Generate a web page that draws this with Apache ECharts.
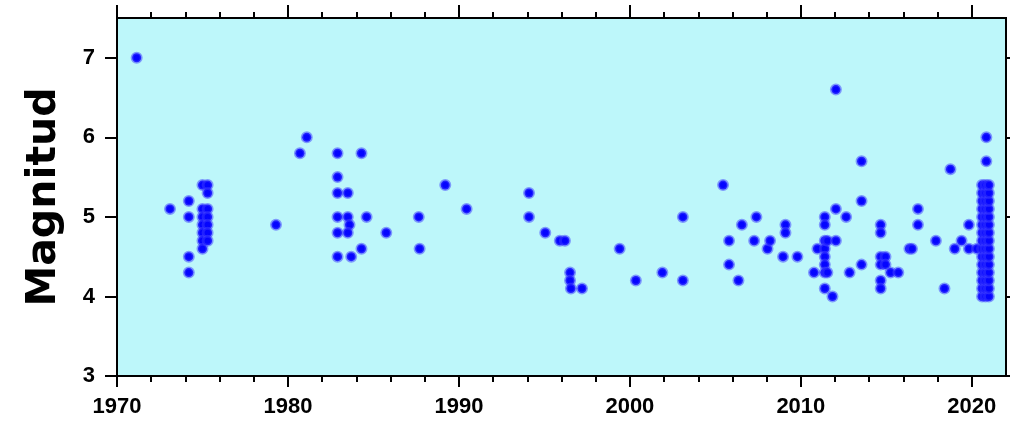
<!DOCTYPE html>
<html>
<head>
<meta charset="utf-8">
<script src="https://cdn.jsdelivr.net/npm/echarts@6/dist/echarts.min.js"></script>
<style>html,body{margin:0;padding:0;background:#fff;}#c{width:1010px;height:423px;}</style>
</head>
<body>
<div id="c"></div>
<script>
const xTicks = [1970, 1980, 1990, 2000, 2010, 2020];
const yTicks = [3, 4, 5, 6, 7];
const yTitle = 'Magnitud';

const years = [
  1971.15,
  1973.1,
  1974.2, 1974.2, 1974.2, 1974.2,
  1975.0, 1975.0, 1975.0, 1975.0, 1975.0, 1975.0, 1975.0,
  1975.3, 1975.3, 1975.3, 1975.3, 1975.3, 1975.3, 1975.3,
  1979.3,
  1980.7, 1981.1,
  1982.9, 1982.9, 1982.9, 1982.9, 1982.9, 1982.9,
  1983.5, 1983.5, 1983.6, 1983.5, 1983.7,
  1984.3, 1984.3, 1984.6, 1985.75,
  1987.65, 1987.7,
  1989.2, 1990.45,
  1994.1, 1994.1,
  1995.05, 1995.9, 1996.2,
  1996.5, 1996.5, 1996.55, 1997.2,
  1999.4, 2000.35, 2001.9,
  2003.1, 2003.1,
  2005.45, 2005.8, 2005.8,
  2006.35, 2006.55,
  2007.27, 2007.4,
  2008.05, 2008.2,
  2008.96, 2009.1, 2009.1, 2009.8,
  2010.77, 2010.97,
  2011.4, 2011.4, 2011.4, 2011.4, 2011.4, 2011.4, 2011.4, 2011.4,
  2011.55, 2011.55,
  2011.85,
  2012.05, 2012.05, 2012.05,
  2012.65, 2012.85,
  2013.55, 2013.55, 2013.55,
  2014.67, 2014.67, 2014.67, 2014.67, 2014.67, 2014.67,
  2014.95, 2014.95,
  2015.25, 2015.7,
  2016.35, 2016.5,
  2016.85, 2016.85,
  2017.9, 2018.4, 2018.75,
  2019.0, 2019.4, 2019.83, 2019.83,
  2020.3,
  2020.85, 2020.85,
  2020.6, 2020.6, 2020.6, 2020.6, 2020.6, 2020.6, 2020.6, 2020.6, 2020.6, 2020.6, 2020.6, 2020.6, 2020.6, 2020.6, 2020.6,
  2020.8, 2020.8, 2020.8, 2020.8, 2020.8, 2020.8, 2020.8, 2020.8, 2020.8, 2020.8, 2020.8, 2020.8, 2020.8, 2020.8, 2020.8,
  2021.0, 2021.0, 2021.0, 2021.0, 2021.0, 2021.0, 2021.0, 2021.0, 2021.0, 2021.0, 2021.0, 2021.0, 2021.0, 2021.0, 2021.0
];

const mags = [
  7.0,
  5.1,
  5.2, 5.0, 4.5, 4.3,
  5.4, 5.1, 5.0, 4.9, 4.8, 4.7, 4.6,
  5.4, 5.3, 5.1, 5.0, 4.9, 4.8, 4.7,
  4.9,
  5.8, 6.0,
  5.8, 5.5, 5.3, 5.0, 4.8, 4.5,
  5.3, 5.0, 4.9, 4.8, 4.5,
  5.8, 4.6, 5.0, 4.8,
  5.0, 4.6,
  5.4, 5.1,
  5.3, 5.0,
  4.8, 4.7, 4.7,
  4.3, 4.2, 4.1, 4.1,
  4.6, 4.2, 4.3,
  5.0, 4.2,
  5.4, 4.7, 4.4,
  4.2, 4.9,
  4.7, 5.0,
  4.6, 4.7,
  4.5, 4.9, 4.8, 4.5,
  4.3, 4.6,
  5.0, 4.9, 4.7, 4.6, 4.5, 4.4, 4.3, 4.1,
  4.7, 4.3,
  4.0,
  6.6, 5.1, 4.7,
  5.0, 4.3,
  5.7, 5.2, 4.4,
  4.9, 4.8, 4.5, 4.4, 4.2, 4.1,
  4.5, 4.4,
  4.3, 4.3,
  4.6, 4.6,
  5.1, 4.9,
  4.7, 4.1, 5.6,
  4.6, 4.7, 4.9, 4.6,
  4.6,
  6.0, 5.7,
  4.0, 4.1, 4.2, 4.3, 4.4, 4.5, 4.6, 4.7, 4.8, 4.9, 5.0, 5.1, 5.2, 5.3, 5.4,
  4.0, 4.1, 4.2, 4.3, 4.4, 4.5, 4.6, 4.7, 4.8, 4.9, 5.0, 5.1, 5.2, 5.3, 5.4,
  4.0, 4.1, 4.2, 4.3, 4.4, 4.5, 4.6, 4.7, 4.8, 4.9, 5.0, 5.1, 5.2, 5.3, 5.4
];

const points = years.map((y, i) => [y, mags[i]]);

const font = 'Liberation Sans, Arial, sans-serif';
const lineStyle = { color: '#000', width: 2 };
const plain = v => String(v);

const chart = echarts.init(document.getElementById('c'), null, { renderer: 'canvas' });
chart.setOption({
  animation: false,
  backgroundColor: '#ffffff',
  grid: {
    left: 117, right: 4, top: 18, bottom: 47,
    show: true, backgroundColor: '#bdf7fa', borderColor: '#000', borderWidth: 2
  },
  xAxis: [
    {
      type: 'value', position: 'bottom', min: 1970, max: 2022, interval: 10,
      axisLine: { show: true, lineStyle: lineStyle },
      axisTick: { show: true, length: 11, lineStyle: lineStyle, customValues: xTicks },
      minorTick: { show: true, splitNumber: 5, length: 6, lineStyle: { color: '#000', width: 2 } },
      splitLine: { show: false },
      axisLabel: { customValues: xTicks, formatter: plain, margin: 20, color: '#000', fontSize: 22, fontWeight: 'bold', fontFamily: font }
    },
    {
      type: 'value', position: 'top', min: 1970, max: 2022, interval: 10,
      axisLine: { show: true, lineStyle: lineStyle },
      axisTick: { show: true, length: 13, lineStyle: lineStyle, customValues: xTicks },
      minorTick: { show: true, splitNumber: 5, length: 6, lineStyle: { color: '#000', width: 2 } },
      splitLine: { show: false },
      axisLabel: { show: false }
    }
  ],
  yAxis: [
    {
      type: 'value', position: 'left', min: 3, max: 7.5, interval: 1,
      name: yTitle, nameLocation: 'middle', nameGap: 52, nameRotate: 90,
      nameTextStyle: { color: '#000', fontSize: 41, fontWeight: 'bold', fontFamily: 'DejaVu Sans, sans-serif' },
      axisLine: { show: true, lineStyle: lineStyle },
      axisTick: { show: true, length: 12, lineStyle: lineStyle, customValues: yTicks },
      splitLine: { show: false },
      axisLabel: { customValues: yTicks, formatter: plain, margin: 22, color: '#000', fontSize: 22, fontWeight: 'bold', fontFamily: font }
    },
    {
      type: 'value', position: 'right', min: 3, max: 7.5, interval: 1,
      axisLine: { show: true, lineStyle: lineStyle },
      axisTick: { show: true, length: 6, lineStyle: lineStyle, customValues: yTicks },
      splitLine: { show: false },
      axisLabel: { show: false }
    }
  ],
  series: [{
    type: 'scatter',
    xAxisIndex: 0, yAxisIndex: 0,
    data: points,
    symbol: 'circle',
    symbolSize: 9,
    itemStyle: { color: '#0505ff', borderColor: 'rgba(60,60,255,0.5)', borderWidth: 3, opacity: 1 }
  }]
});
</script>
</body>
</html>
